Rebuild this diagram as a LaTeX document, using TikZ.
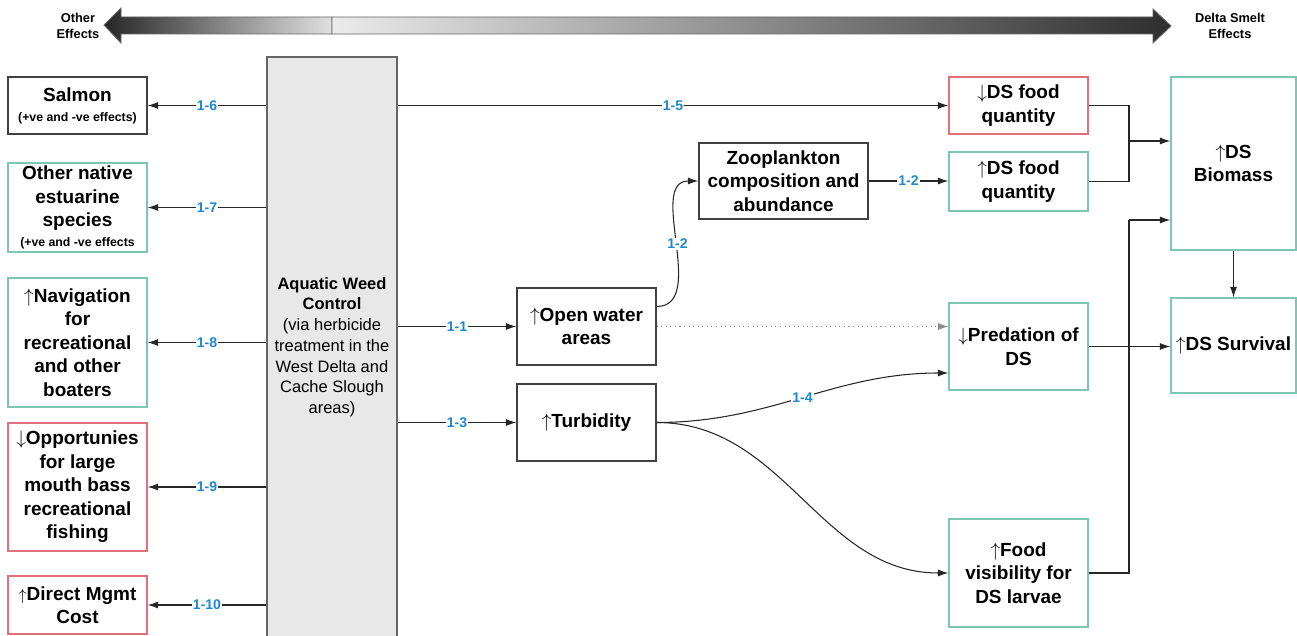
\documentclass[tikz,border=0pt]{standalone}
\usepackage{fontspec}
\setmainfont{Liberation Sans}
\usetikzlibrary{arrows.meta, positioning, calc}

\definecolor{dsgreen}{RGB}{122,200,180}
\definecolor{dsred}{RGB}{226,112,122}
\definecolor{lblblue}{RGB}{30,136,206}
\newcommand{\upar}{$\uparrow$}
\newcommand{\dnar}{$\downarrow$}
\newcommand{\smallfx}{\fontsize{7}{8.5}\selectfont}

\begin{document}
\begin{tikzpicture}[
    x=0.02cm, y=-0.02cm,
    box/.style={draw=black!75, line width=0.7pt, align=center, inner sep=1pt,
        font=\bfseries\fontsize{10.8}{13.4}\selectfont},
    greenbox/.style={box, draw=dsgreen},
    redbox/.style={box, draw=dsred},
    lbl/.style={fill=white, text=lblblue, inner sep=0.5pt,
        font=\bfseries\fontsize{8}{9}\selectfont},
    link/.style={-{Latex[length=6pt,width=4pt]}, black!85, line width=0.6pt},
    fxarrow/.style={draw=black!60, line width=0.5pt},
    header/.style={align=center, font=\bfseries\fontsize{7.3}{8.9}\selectfont}
]
    \useasboundingbox (0,0) rectangle (1297,635);

    % direction bar on top
    \path[fxarrow, left color=black!85, middle color=black!35, right color=black!12]
        (104,25) -- (121,8) -- (121,17) -- (332,17) -- (332,34) -- (121,34) -- (121,43) -- cycle;
    \path[fxarrow, left color=black!8, right color=black!82]
        (332,17) -- (1153,17) -- (1153,9) -- (1171,26) -- (1153,43) -- (1153,34) -- (332,34) -- cycle;
    \node[header] (otherfx) at (78,26) {Other\\Effects};
    \node[header] (smeltfx) at (1230,26) {Delta Smelt\\Effects};

    % central driver
    \node[box, fill=black!9, draw=black!60, font=\fontsize{9.4}{11.8}\selectfont,
        minimum width=2.6cm, minimum height=11.6cm] (weed) at (332,347)
        {\textbf{Aquatic Weed}\\\textbf{Control}\\(via herbicide\\treatment in the\\West Delta and\\Cache Slough\\areas)};

    % other effects
    \node[box, minimum width=2.78cm, minimum height=1.14cm] (salmon) at (77.5,105.5)
        {Salmon\\[-2pt]{\smallfx (+ve and -ve effects)}};
    \node[greenbox, minimum width=2.78cm, minimum height=1.78cm] (native) at (77.5,207.5)
        {Other native\\estuarine\\species\\[-2pt]{\smallfx (+ve and -ve effects}};
    \node[greenbox, minimum width=2.78cm, minimum height=2.58cm] (boat) at (77.5,342.5)
        {\upar Navigation\\for\\recreational\\and other\\boaters};
    \node[redbox, minimum width=2.78cm, minimum height=2.56cm] (bass) at (77.5,487)
        {\dnar Opportunies\\for large\\mouth bass\\recreational\\fishing};
    \node[redbox, minimum width=2.78cm, minimum height=1.16cm] (cost) at (77.5,605)
        {{\small\upar}Direct Mgmt\\Cost};

    % pathway boxes
    \node[box, minimum width=2.78cm, minimum height=1.54cm] (open) at (586.5,326.5)
        {\upar Open water\\areas};
    \node[box, minimum width=2.78cm, minimum height=1.54cm] (turb) at (586.5,422.5)
        {\upar Turbidity};
    \node[box, minimum width=3.38cm, minimum height=1.52cm] (zoo) at (783.5,181)
        {Zooplankton\\composition and\\abundance};

    % delta smelt effects
    \node[redbox, minimum width=2.78cm, minimum height=1.14cm] (fooddn) at (1018.5,105.5)
        {\dnar DS food\\quantity};
    \node[greenbox, minimum width=2.78cm, minimum height=1.18cm] (foodup) at (1018.5,181.5)
        {\upar DS food\\quantity};
    \node[greenbox, minimum width=2.78cm, minimum height=1.74cm] (pred) at (1018.5,346.5)
        {\dnar Predation of\\DS};
    \node[greenbox, minimum width=2.78cm, minimum height=2.16cm] (vis) at (1018.5,573)
        {\upar Food\\visibility for\\DS larvae};
    \node[greenbox, minimum width=2.5cm, minimum height=3.46cm] (bio) at (1233.5,163.5)
        {\upar DS\\Biomass};
    \node[greenbox, minimum width=2.5cm, minimum height=1.9cm] (surv) at (1233.5,345.5)
        {\upar DS Survival};

    % links to the left
    \draw[link] (weed.west |- salmon.east) -- node[lbl] {1-6} (salmon.east);
    \draw[link] (weed.west |- native.east) -- node[lbl] {1-7} (native.east);
    \draw[link] (weed.west |- boat.east) -- node[lbl] {1-8} (boat.east);
    \draw[link] (weed.west |- bass.east) -- node[lbl] {1-9} (bass.east);
    \draw[link] (weed.west |- cost.east) -- node[lbl] {1-10} (cost.east);

    % links to the right
    \draw[link] (weed.east |- fooddn.west) -- node[lbl] {1-5} (fooddn.west);
    \draw[link] (weed.east |- open.west) -- node[lbl] {1-1} (open.west);
    \draw[link] (weed.east |- turb.west) -- node[lbl] {1-3} (turb.west);
    \draw[link] ([yshift=0.4cm]open.east) to[out=0, in=180] node[lbl, pos=0.5] {1-2} (zoo.west);
    \draw[link] (zoo.east) -- node[lbl] {1-2} (zoo.east -| foodup.west);
    \draw[link, black!45, dotted] (open.east) -- (open.east -| pred.west);
    \draw[link] (turb.east) to[out=0, in=180] node[lbl, pos=0.5] {1-4} ([yshift=-0.53cm]pred.west);
    \draw[link] (turb.east) to[out=0, in=180] (vis.west);

    % merging into biomass and survival
    \coordinate (jtop) at (1129,141);
    \coordinate (jbot) at (1129,220);
    \draw[black!85, line width=0.6pt] (fooddn.east) -| (jtop) |- (foodup.east);
    \draw[link] (jtop) -- (jtop -| bio.west);
    \draw[black!85, line width=0.6pt] (vis.east) -| (jbot);
    \draw[link] (jbot) -- (jbot -| bio.west);
    \draw[link] (pred.east) -- (pred.east -| surv.west);
    \draw[link] (bio.south) -- (surv.north);
\end{tikzpicture}
\end{document}
